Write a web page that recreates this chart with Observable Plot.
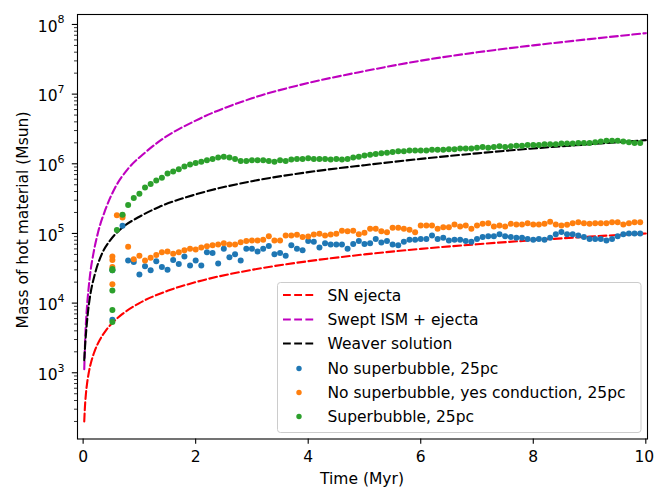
<!DOCTYPE html>
<html>
<head>
<meta charset="utf-8">
<script src="https://cdn.jsdelivr.net/npm/d3@7"></script>
<script src="https://cdn.jsdelivr.net/npm/@observablehq/plot@0.6"></script>
<style>
  html, body { margin: 0; padding: 0; background: white; }
  #chart svg { display: block; }
</style>
</head>
<body>
<div id="chart"></div>
<script>
// ---------- data ----------
// analytic curves (time in Myr, mass in Msun)
const snT      = [0.02,0.03,0.05,0.07,0.1,0.15,0.2,0.3,0.4,0.5,0.7,1,1.5,2,3,4,5,6,7,8,9,10];
const snMass   = [200,300,500,700,1000,1500,2000,3000,4000,5000,7000,1e4,1.5e4,2e4,3e4,4e4,5e4,6e4,7e4,8e4,9e4,1e5];

const sweptT   = [0.02,0.04,0.06,0.09,0.13,0.18,0.27,0.39,0.57,0.8,1.1,1.4,2,3,4,5,6,7,8,9,10];
const sweptLog = [3.05,3.55,3.85,4.15,4.45,4.70,5.03,5.33,5.66,5.93,6.16,6.35,6.62,6.94,7.16,7.33,7.48,7.60,7.70,7.79,7.875];

const weaverT   = [0.02,0.04,0.06,0.09,0.12,0.21,0.33,0.48,0.69,1.0,1.35,2,3,4,5,6,7,8,9,10];
const weaverLog = [3.18,3.45,3.65,3.90,4.08,4.42,4.70,4.90,5.08,5.24,5.38,5.56,5.75,5.88,5.98,6.07,6.15,6.22,6.28,6.34];

// simulation snapshots
const snapTimes = [
  0.8,0.9,
  1.0,1.1,1.2,1.3,1.4,1.5,1.6,1.7,1.8,1.9,
  2.0,2.1,2.2,2.3,2.4,2.5,2.6,2.7,2.8,2.9,
  3.0,3.1,3.2,3.3,3.4,3.5,3.6,3.7,3.8,3.9,
  4.0,4.1,4.2,4.3,4.4,4.5,4.6,4.7,4.8,4.9,
  5.0,5.1,5.2,5.3,5.4,5.5,5.6,5.7,5.8,5.9,
  6.0,6.1,6.2,6.3,6.4,6.5,6.6,6.7,6.8,6.9,
  7.0,7.1,7.2,7.3,7.4,7.5,7.6,7.7,7.8,7.9,
  8.0,8.1,8.2,8.3,8.4,8.5,8.6,8.7,8.8,8.9,
  9.0,9.1,9.2,9.3,9.4,9.5,9.6,9.7,9.8,9.9
];
// log10(mass) per snapshot
const noSbLog = [
  4.61,4.59,
  4.41,4.53,4.47,4.60,4.52,4.48,4.62,4.56,4.67,4.54,
  4.61,4.54,4.73,4.72,4.57,4.78,4.66,4.70,4.61,4.78,
  4.78,4.74,4.78,4.82,4.70,4.72,4.68,4.83,4.78,4.76,
  4.89,4.88,4.80,4.86,4.84,4.84,4.84,4.78,4.85,4.89,
  4.85,4.86,4.92,4.87,4.89,4.84,4.83,4.88,4.91,4.91,
  4.92,4.92,4.97,4.92,4.94,4.90,4.91,4.91,4.89,4.88,
  4.92,4.95,4.96,4.96,4.99,4.96,4.95,4.94,4.94,4.92,
  4.91,4.92,4.91,4.94,4.99,5.02,4.99,4.99,4.97,4.95,
  4.92,4.92,4.92,4.90,4.92,4.96,4.99,5.00,5.00,5.00
];
const condLog = [
  4.81,4.63,
  4.68,4.61,4.65,4.69,4.73,4.74,4.71,4.73,4.76,4.78,
  4.77,4.80,4.815,4.83,4.84,4.86,4.84,4.84,4.875,4.89,
  4.90,4.90,4.91,4.96,4.90,4.90,4.97,4.97,4.98,4.95,
  4.955,4.985,4.995,4.97,4.985,4.995,5.04,5.03,5.04,4.99,
  5.01,5.066,5.066,5.033,5.018,5.08,5.08,5.066,5.052,5.018,
  5.114,5.114,5.114,5.066,5.09,5.09,5.128,5.10,5.114,5.066,
  5.114,5.138,5.147,5.10,5.114,5.10,5.138,5.128,5.128,5.147,
  5.128,5.128,5.138,5.167,5.128,5.114,5.124,5.147,5.162,5.147,
  5.138,5.147,5.147,5.147,5.162,5.162,5.128,5.147,5.162,5.162
];
const sbLog = [
  5.41,5.51,
  5.57,5.66,5.71,5.76,5.80,5.86,5.89,5.92,5.96,5.99,
  6.01,6.03,6.05,6.07,6.09,6.10,6.09,6.07,6.04,6.04,
  6.05,6.05,6.05,6.04,6.03,6.05,6.04,6.06,6.07,6.07,
  6.08,6.07,6.07,6.07,6.06,6.07,6.06,6.07,6.09,6.10,
  6.12,6.13,6.14,6.15,6.16,6.17,6.18,6.18,6.19,6.19,
  6.19,6.19,6.20,6.20,6.20,6.21,6.21,6.22,6.22,6.22,
  6.23,6.24,6.23,6.24,6.25,6.24,6.25,6.26,6.26,6.27,
  6.27,6.27,6.28,6.28,6.28,6.29,6.29,6.29,6.30,6.30,
  6.30,6.31,6.32,6.33,6.33,6.33,6.32,6.31,6.30,6.30
];
// early snapshots (several outputs around 0.5 Myr)
const noSbEarlyT   = [0.52,0.52,0.7];
const noSbEarlyLog = [4.47,3.76,5.11];
const condEarlyT   = [0.52,0.52,0.52,0.52,0.6,0.7,0.7];
const condEarlyLog = [4.67,4.62,4.52,4.27,5.26,5.26,5.23];
const sbEarlyT     = [0.52,0.52,0.52,0.52,0.52,0.6,0.7];
const sbEarlyLog   = [4.49,4.47,4.18,3.90,3.73,5.05,5.27];

const xTicks = [0,2,4,6,8,10];
const yTicks = [1e3,1e4,1e5,1e6,1e7,1e8];
const yTickExp = ["3","4","5","6","7","8"];

const legendLabels = ["SN ejecta","Swept ISM + ejecta","Weaver solution",
  "No superbubble, 25pc","No superbubble, yes conduction, 25pc","Superbubble, 25pc"];

// ---------- build tables ----------
const C = {red:"#ff0000", mag:"#bf00bf", blk:"#000000", blue:"#1f77b4", orange:"#ff7f0e", green:"#2ca02c"};
const curveRows = (ts, ms) => ts.map((t,i)=>({t, m: ms[i]}));
const logRows = (ts, ls) => ts.map((t,i)=>({t, m: Math.pow(10, ls[i])}));

const snRows = curveRows(snT, snMass);
const sweptRows = logRows(sweptT, sweptLog);
const weaverRows = logRows(weaverT, weaverLog);
const noSbRows = logRows(noSbEarlyT, noSbEarlyLog).concat(logRows(snapTimes, noSbLog));
const condRows = logRows(condEarlyT, condEarlyLog).concat(logRows(snapTimes, condLog));
const sbRows = logRows(sbEarlyT, sbEarlyLog).concat(logRows(snapTimes, sbLog));

const minor = [];
for (let e = 2; e <= 8; e++) for (let k = 2; k <= 9; k++) {
  const v = k * Math.pow(10, e);
  if (v > 112 && v < 1.39e8) minor.push(v);
}

const FONT = "'DejaVu Sans', sans-serif";
const FS = 15.5;
const dash = "7.8,3.4";
const lw = 2.1;
const W = 654, H = 490;
const mL = 77, mR = 7, mT = 14, mB = 51.5;

const chart = Plot.plot({
  width: W, height: H,
  marginLeft: mL, marginRight: mR, marginTop: mT, marginBottom: mB,
  style: {fontFamily: FONT, fontSize: FS + "px", background: "white", color: "#000"},
  x: {domain: [-0.1, 10.03]},
  y: {type: "log", domain: [112, 1.39e8]},
  marks: [
    Plot.line(snRows, {x:"t", y:"m", stroke:C.red, strokeWidth:lw, strokeDasharray:dash, curve:"monotone-x"}),
    Plot.line(sweptRows, {x:"t", y:"m", stroke:C.mag, strokeWidth:lw, strokeDasharray:dash, curve:"monotone-x"}),
    Plot.line(weaverRows, {x:"t", y:"m", stroke:C.blk, strokeWidth:lw, strokeDasharray:dash, curve:"monotone-x"}),
    Plot.dot(noSbRows, {x:"t", y:"m", r:3, fill:C.blue, stroke:null}),
    Plot.dot(condRows, {x:"t", y:"m", r:3, fill:C.orange, stroke:null}),
    Plot.dot(sbRows, {x:"t", y:"m", r:3, fill:C.green, stroke:null}),
    Plot.axisX({ticks: xTicks, tickSize: 5.2, tickPadding: 7, strokeWidth: 1.1, label: null, fontSize: FS}),
    Plot.axisY({ticks: yTicks, tickSize: 5.2, strokeWidth: 1.1, label: null, tickFormat: () => ""}),
    Plot.axisY({ticks: minor, tickSize: 3, strokeWidth: 0.8, label: null, tickFormat: () => ""}),
    Plot.frame({stroke: "black", strokeWidth: 1.1})
  ]
});
document.getElementById("chart").appendChild(chart);

// keep the last x tick label ("10") inside the picture
const xLabelNodes = Array.from(chart.querySelectorAll("text")).filter(n => n.textContent === "10");
xLabelNodes.forEach(n => n.setAttribute("dx", "-1.5"));

// ---------- y tick labels with superscripts, axis titles, legend ----------
const svg = d3.select(chart);
const yScale = chart.scale("y");
const yl = svg.append("g").attr("font-family", FONT).attr("fill", "#000").attr("text-anchor", "end");
yTicks.forEach((v, i) => {
  const y = yScale.apply(v);
  const t = yl.append("text").attr("x", 64.5).attr("y", y + 7.6).attr("font-size", FS);
  t.append("tspan").text("10");
  t.append("tspan").attr("font-size", 11).attr("dy", -8.2).text(yTickExp[i]);
});

svg.append("text")
  .attr("x", (mL + W - mR) / 2).attr("y", 483.5)
  .attr("text-anchor", "middle").attr("font-size", FS)
  .attr("font-family", FONT).attr("fill", "#000")
  .text("Time (Myr)");
svg.append("text")
  .attr("transform", `translate(27.5,220) rotate(-90)`)
  .attr("text-anchor", "middle").attr("font-size", FS)
  .attr("font-family", FONT).attr("fill", "#000")
  .text("Mass of hot material (Msun)");

const lg = svg.append("g").attr("font-family", FONT).attr("font-size", FS).attr("text-anchor", "start");
lg.append("rect").attr("x", 277.5).attr("y", 282.5).attr("width", 363.5).attr("height", 150)
  .attr("rx", 3).attr("fill", "white").attr("fill-opacity", 0.8)
  .attr("stroke", "#cccccc").attr("stroke-width", 1);
const rowY = [295, 319.5, 343.5, 368.5, 392.5, 416.5];
const lineCols = [C.red, C.mag, C.blk];
const dotCols = [C.blue, C.orange, C.green];
legendLabels.forEach((lab, i) => {
  const y = rowY[i];
  if (i < 3) {
    lg.append("line").attr("x1", 283).attr("x2", 314.5).attr("y1", y).attr("y2", y)
      .attr("stroke", lineCols[i]).attr("stroke-width", lw).attr("stroke-dasharray", dash);
  } else {
    lg.append("circle").attr("cx", 299).attr("cy", y).attr("r", 2.7).attr("fill", dotCols[i - 3]);
  }
  lg.append("text").attr("x", 327.5).attr("y", y).attr("dy", "0.36em").attr("fill", "#000")
    .attr("text-anchor", "start").text(lab);
});
</script>
</body>
</html>
